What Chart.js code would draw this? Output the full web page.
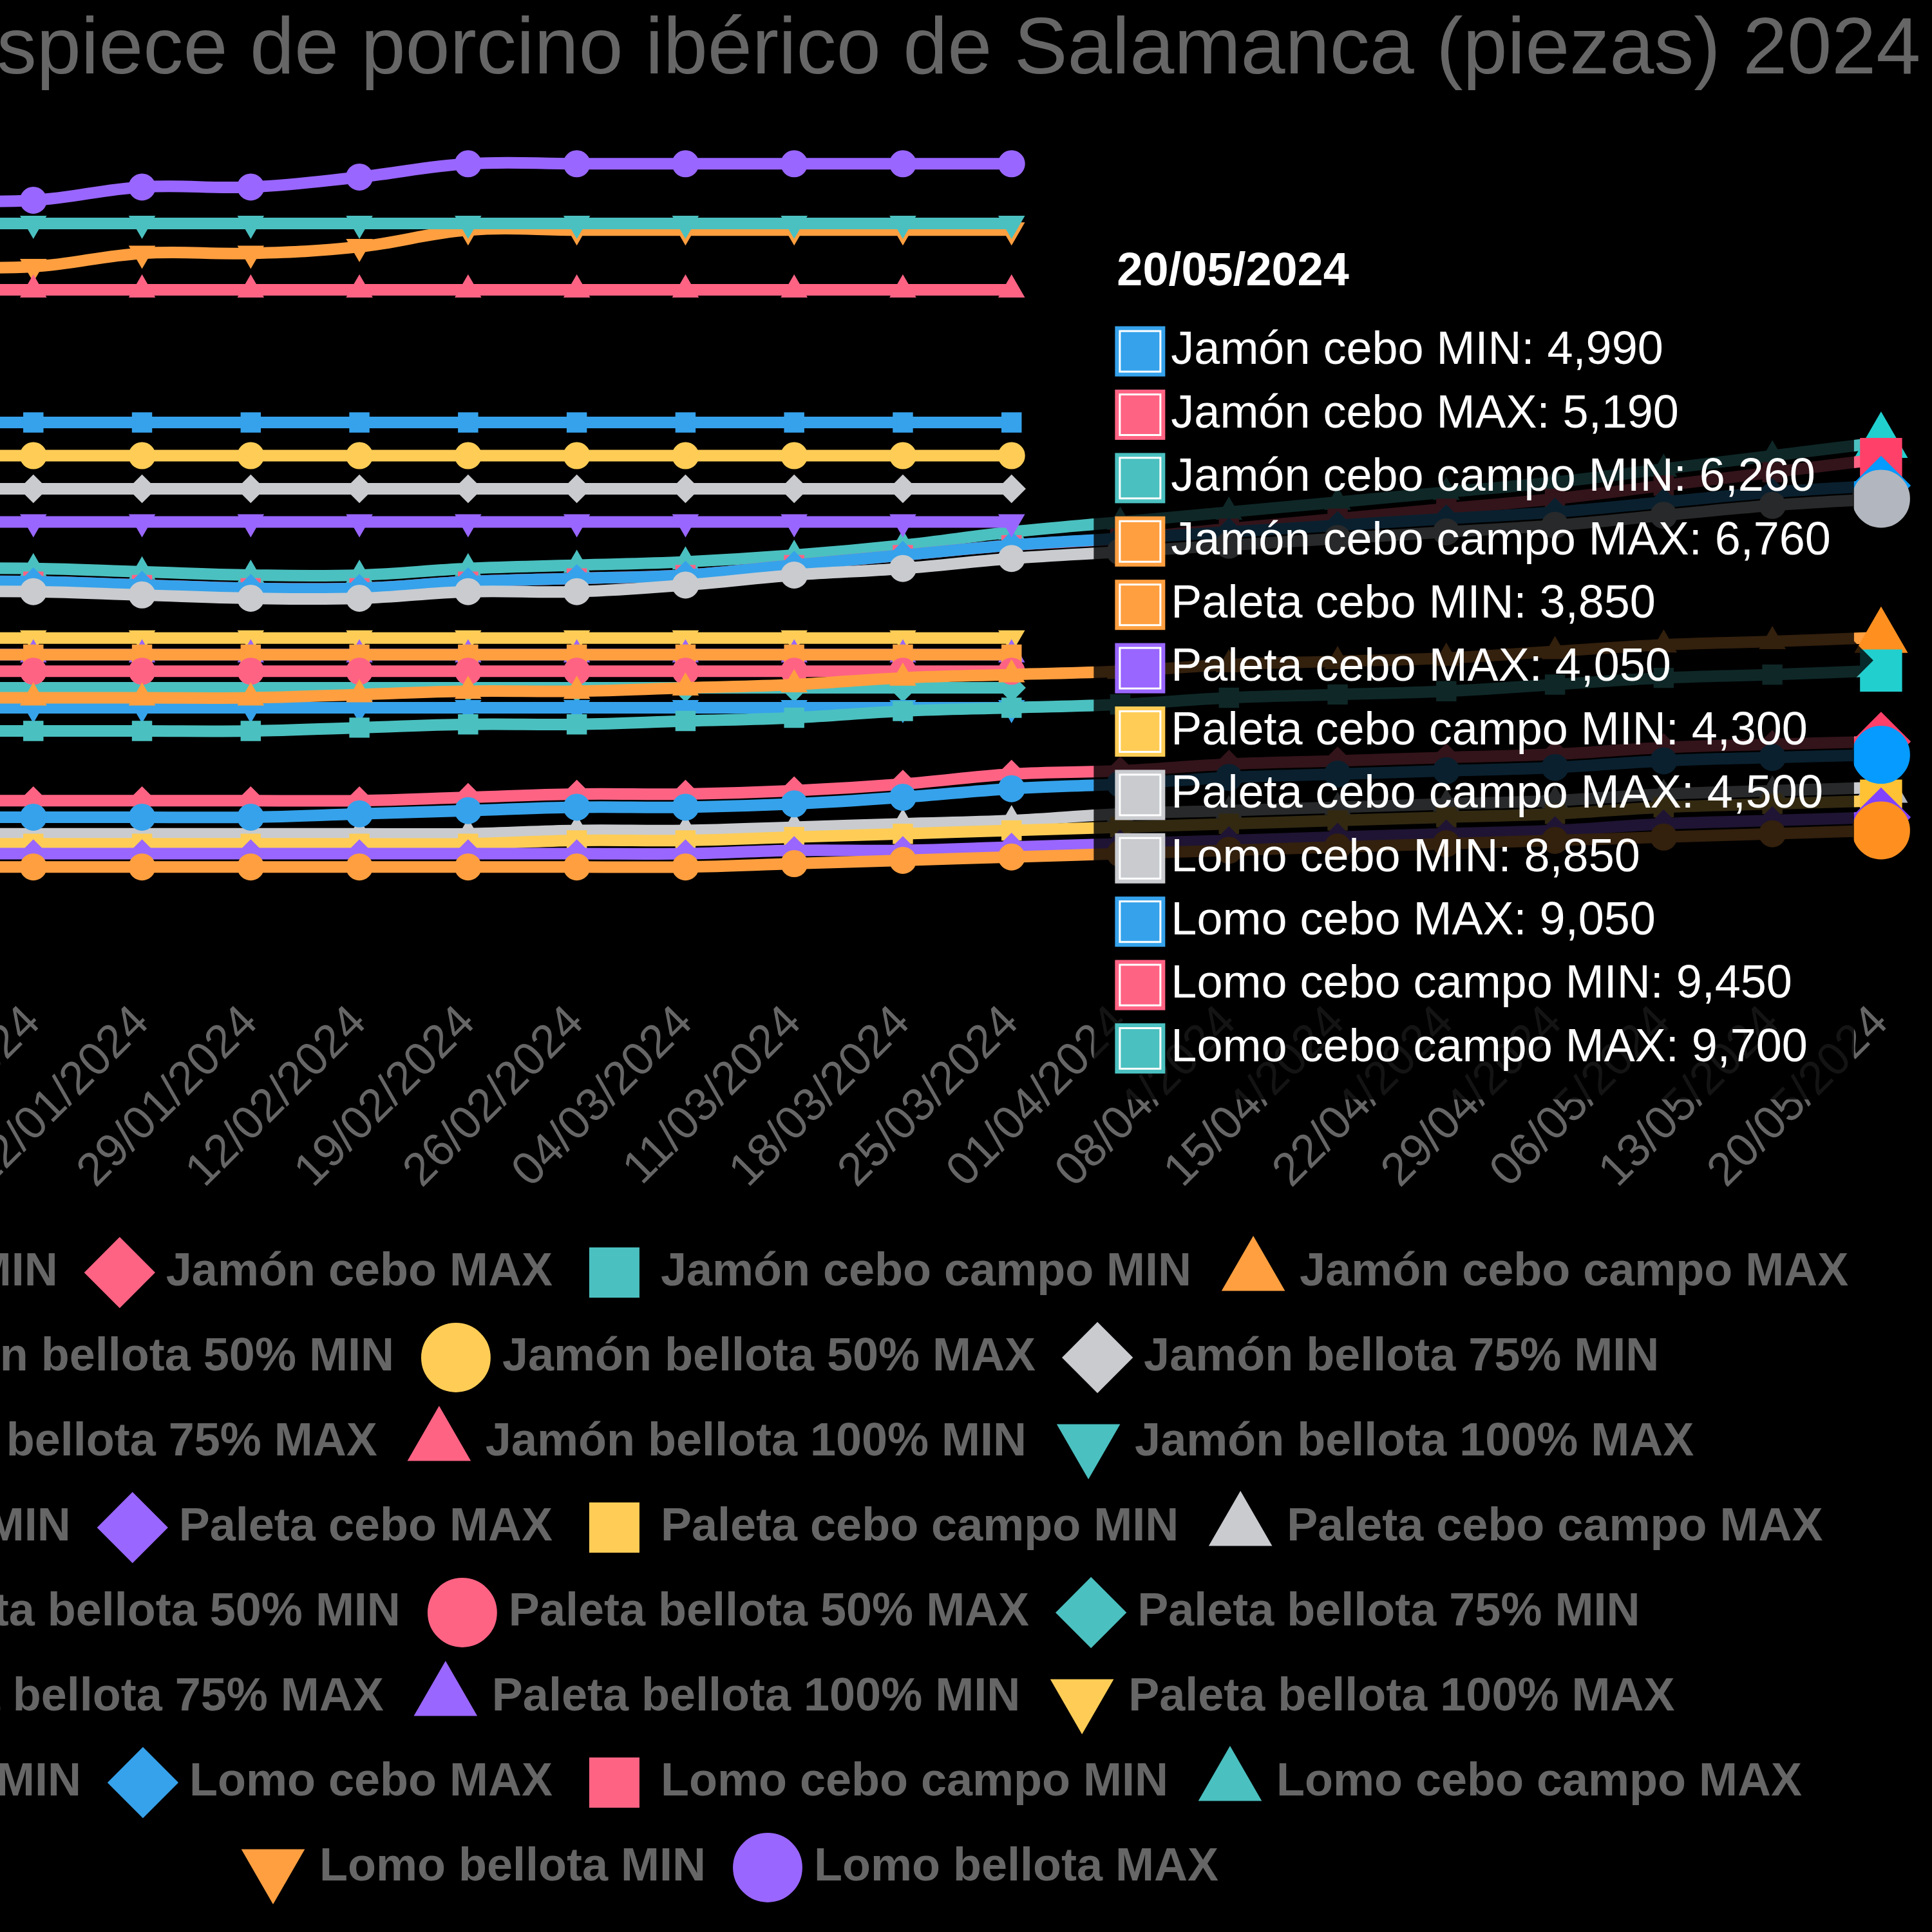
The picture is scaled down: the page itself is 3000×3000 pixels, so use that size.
<!DOCTYPE html>
<html>
<head>
<meta charset="utf-8">
<script src="https://cdn.jsdelivr.net/npm/chart.js"></script>
<style>
  html, body { margin: 0; background: #000; width: 3000px; height: 3000px; overflow: hidden; }
  #wrap { position: absolute; left: -720px; top: -34px; width: 620px; height: 505px; transform: scale(6); transform-origin: 0 0; }
</style>
</head>
<body>
<div id="wrap"><canvas id="chart" width="620" height="505"></canvas></div>
<script>
const labels = ['08/01/2024', '15/01/2024', '22/01/2024', '29/01/2024', '12/02/2024', '19/02/2024', '26/02/2024',
    '04/03/2024', '11/03/2024', '18/03/2024', '25/03/2024', '01/04/2024', '08/04/2024', '15/04/2024',
    '22/04/2024', '29/04/2024', '06/05/2024', '13/05/2024', '20/05/2024'];

// Jamón
const jamonCeboMin = [4050, 4050, 4050, 4050, 4100, 4150, 4200, 4200, 4250, 4350, 4480, 4550, 4650, 4700, 4750, 4800, 4900, 4950, 4990];
const jamonCeboMax = [4300, 4300, 4300, 4300, 4300, 4350, 4400, 4400, 4450, 4550, 4700, 4750, 4850, 4900, 4950, 5000, 5100, 5150, 5190];
const jamonCeboCampoMin = [5350, 5350, 5350, 5350, 5400, 5450, 5450, 5500, 5550, 5650, 5700, 5750, 5850, 5900, 5950, 6050, 6150, 6200, 6260];
const jamonCeboCampoMax = [5850, 5850, 5850, 5850, 5900, 5950, 5950, 6000, 6050, 6150, 6200, 6250, 6350, 6400, 6450, 6550, 6650, 6700, 6760];
const jamonBellota50Min = [8500, 8500, 8500, 8500, 8500, 8500, 8500, 8500, 8500, 8500, 8500];
const jamonBellota50Max = [9500, 9500, 9500, 9500, 9500, 9500, 9500, 9500, 9500, 9500, 9500];
const jamonBellota75Min = [9000, 9000, 9000, 9000, 9000, 9000, 9000, 9000, 9000, 9000, 9000];
const jamonBellota75Max = [10000, 10000, 10000, 10000, 10000, 10000, 10000, 10000, 10000, 10000, 10000];
const jamonBellota100Min = [12000, 12000, 12000, 12000, 12000, 12000, 12000, 12000, 12000, 12000, 12000];
const jamonBellota100Max = [13000, 13000, 13000, 13000, 13000, 13000, 13000, 13000, 13000, 13000, 13000];

// Paleta
const paletaCeboMin = [3300, 3300, 3300, 3300, 3300, 3300, 3300, 3300, 3350, 3400, 3450, 3500, 3550, 3600, 3650, 3700, 3750, 3800, 3850];
const paletaCeboMax = [3500, 3500, 3500, 3500, 3500, 3500, 3500, 3500, 3550, 3550, 3600, 3650, 3700, 3750, 3800, 3850, 3950, 4000, 4050];
const paletaCeboCampoMin = [3650, 3650, 3650, 3650, 3650, 3650, 3700, 3700, 3750, 3800, 3850, 3900, 3950, 4000, 4050, 4100, 4200, 4250, 4300];
const paletaCeboCampoMax = [3800, 3800, 3800, 3800, 3800, 3800, 3850, 3850, 3900, 3950, 4000, 4100, 4150, 4200, 4250, 4300, 4400, 4450, 4500];
const paletaBellota50Min = [5700, 5700, 5700, 5700, 5700, 5700, 5700, 5700, 5700, 5700, 5700];
const paletaBellota50Max = [6250, 6250, 6250, 6250, 6250, 6250, 6250, 6250, 6250, 6250, 6250];
const paletaBellota75Min = [6000, 6000, 6000, 6000, 6000, 6000, 6000, 6000, 6000, 6000, 6000];
const paletaBellota75Max = [6500, 6500, 6500, 6500, 6500, 6500, 6500, 6500, 6500, 6500, 6500];
const paletaBellota100Min = [6500, 6500, 6500, 6500, 6500, 6500, 6500, 6500, 6500, 6500, 6500];
const paletaBellota100Max = [6750, 6750, 6750, 6750, 6750, 6750, 6750, 6750, 6750, 6750, 6750];

// Lomo
const lomoCeboMin = [7450, 7450, 7400, 7350, 7350, 7450, 7450, 7550, 7700, 7800, 7950, 8050, 8150, 8250, 8350, 8450, 8600, 8750, 8850];
const lomoCeboMax = [7600, 7600, 7550, 7500, 7500, 7600, 7650, 7700, 7850, 8000, 8150, 8250, 8350, 8450, 8550, 8650, 8800, 8950, 9050];
const lomoCeboCampoMin = [7600, 7600, 7550, 7500, 7500, 7600, 7650, 7700, 7850, 8000, 8150, 8250, 8400, 8550, 8700, 8850, 9050, 9250, 9450];
const lomoCeboCampoMax = [7800, 7800, 7750, 7700, 7700, 7800, 7850, 7900, 8000, 8150, 8350, 8500, 8650, 8800, 8950, 9100, 9300, 9500, 9700];
const lomoBellotaMin = [12350, 12350, 12550, 12550, 12650, 12900, 12900, 12900, 12900, 12900, 12900];
const lomoBellotaMax = [13350, 13350, 13550, 13550, 13700, 13900, 13900, 13900, 13900, 13900, 13900];

const seriesNames = [
    'Jamón cebo MIN', 'Jamón cebo MAX', 'Jamón cebo campo MIN', 'Jamón cebo campo MAX',
    'Jamón bellota 50% MIN', 'Jamón bellota 50% MAX', 'Jamón bellota 75% MIN', 'Jamón bellota 75% MAX',
    'Jamón bellota 100% MIN', 'Jamón bellota 100% MAX',
    'Paleta cebo MIN', 'Paleta cebo MAX', 'Paleta cebo campo MIN', 'Paleta cebo campo MAX',
    'Paleta bellota 50% MIN', 'Paleta bellota 50% MAX', 'Paleta bellota 75% MIN', 'Paleta bellota 75% MAX',
    'Paleta bellota 100% MIN', 'Paleta bellota 100% MAX',
    'Lomo cebo MIN', 'Lomo cebo MAX', 'Lomo cebo campo MIN', 'Lomo cebo campo MAX',
    'Lomo bellota MIN', 'Lomo bellota MAX'
];
const seriesValues = [
    jamonCeboMin, jamonCeboMax, jamonCeboCampoMin, jamonCeboCampoMax,
    jamonBellota50Min, jamonBellota50Max, jamonBellota75Min, jamonBellota75Max,
    jamonBellota100Min, jamonBellota100Max,
    paletaCeboMin, paletaCeboMax, paletaCeboCampoMin, paletaCeboCampoMax,
    paletaBellota50Min, paletaBellota50Max, paletaBellota75Min, paletaBellota75Max,
    paletaBellota100Min, paletaBellota100Max,
    lomoCeboMin, lomoCeboMax, lomoCeboCampoMin, lomoCeboCampoMax,
    lomoBellotaMin, lomoBellotaMax
];

const palette = ['#36A2EB', '#FF6384', '#4BC0C0', '#FF9F40', '#9966FF', '#FFCD56', '#C9CBCF'];
const shapes = ['circle', 'rectRot', 'rect', 'triangle', 'triangle'];

const datasets = seriesNames.map((name, i) => ({
    label: name,
    data: seriesValues[i],
    borderColor: palette[i % 7],
    backgroundColor: palette[i % 7],
    pointStyle: shapes[i % 5],
    rotation: i % 5 === 4 ? 180 : 0,
    pointHoverRadius: 7,
    tension: 0.4,
    clip: false
}));

const chart = new Chart(document.getElementById('chart'), {
    type: 'line',
    data: { labels: labels, datasets: datasets },
    options: {
        responsive: false,
        devicePixelRatio: 6,
        animation: false,
        locale: 'en-US',
        interaction: { mode: 'index', intersect: false },
        scales: {
            x: {
                grid: { display: false },
                border: { display: false },
                ticks: { color: '#666', minRotation: 45, maxRotation: 45, autoSkip: false }
            },
            y: {
                min: 2000,
                max: 14000,
                grid: { display: false },
                border: { display: false },
                ticks: { color: '#666' },
                afterFit: (scale) => { scale.width = 100.5; }
            }
        },
        plugins: {
            title: {
                display: true,
                text: 'Precio de despiece de porcino ibérico de Salamanca (piezas) 2024',
                color: '#666',
                font: { size: 20.7, weight: 'normal' },
                padding: { top: 6.6, bottom: 14.9 }
            },
            legend: {
                position: 'bottom',
                labels: { usePointStyle: true, color: '#666', font: { size: 12, weight: 'bold' } }
            },
            tooltip: { position: 'average' }
        }
    }
});

// hover on the last week, like the original screenshot
const last = labels.length - 1;
const active = [];
datasets.forEach((ds, i) => {
    if (ds.data[last] != null) active.push({ datasetIndex: i, index: last });
});
chart.setActiveElements(active);
chart.tooltip.setActiveElements(active, { x: chart.scales.x.getPixelForValue(last), y: chart.scales.y.getPixelForValue(6400) });
chart.update();
</script>
</body>
</html>
